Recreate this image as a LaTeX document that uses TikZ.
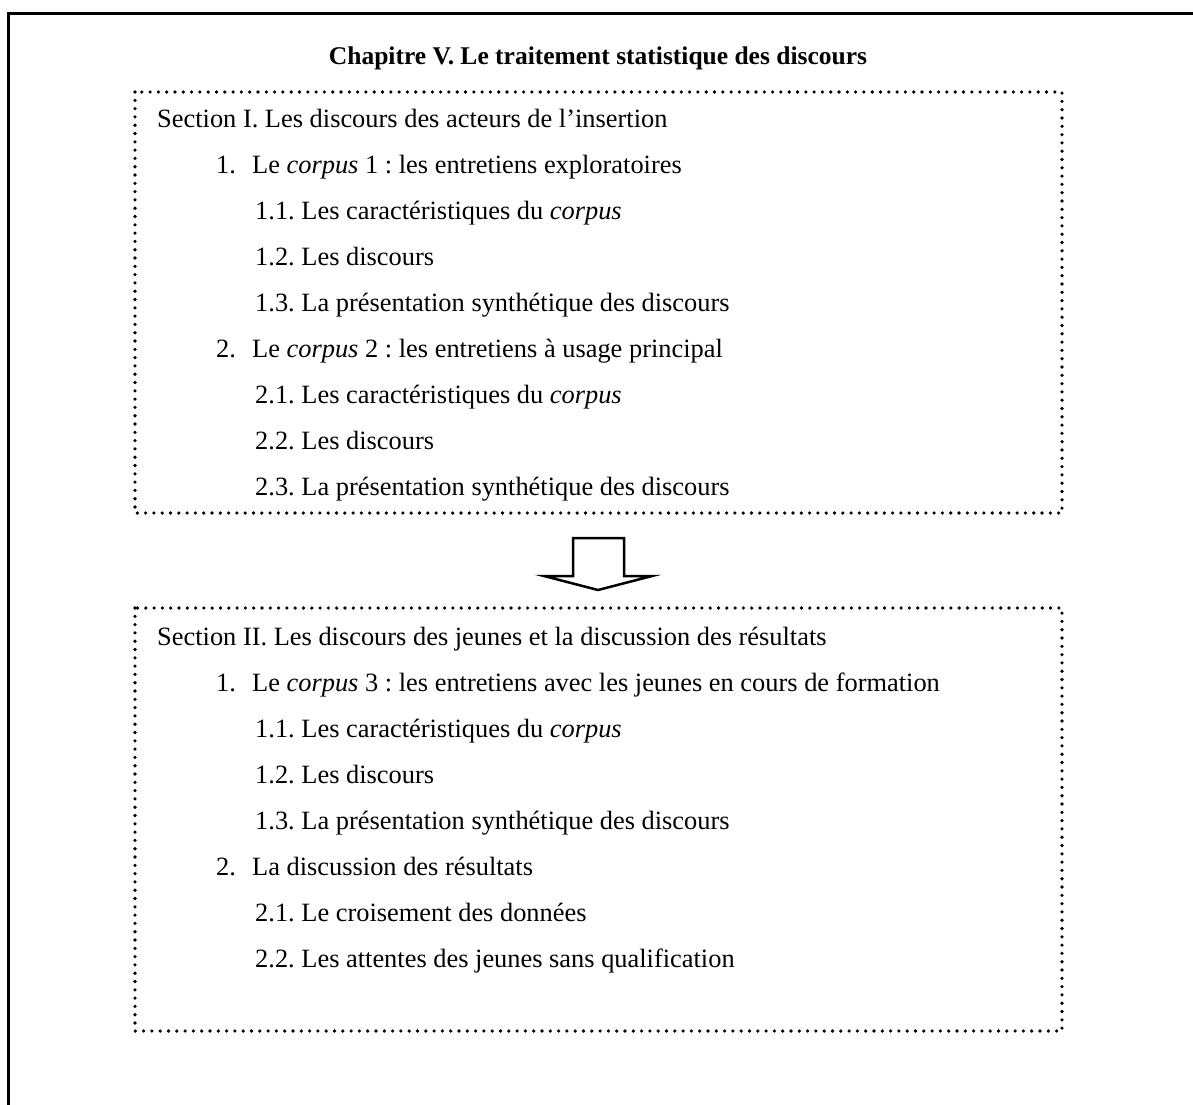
\documentclass[tikz,border=0pt]{standalone}
\usepackage{fontspec}
\setmainfont{Liberation Serif}
\frenchspacing
\begin{document}
\begin{tikzpicture}[x=1pt,y=-1pt,
  txt/.style={anchor=base west,inner sep=0pt,font=\fontsize{26.4}{30}\selectfont},
  ttl/.style={anchor=base,inner sep=0pt,font=\fontsize{25.5}{30}\selectfont\bfseries},
  dotbox/.style={line width=3.6pt,line cap=round,dash pattern=on 0pt off 8.3pt},
  frame/.style={line width=3pt},
  blockarrow/.style={line width=2.5pt,line join=miter}]
\useasboundingbox (0,0) rectangle (1193,1104);
% outer frame
\draw[frame] (8,1110) -- (8,13) -- (1200,13);
% title
\node[ttl] (title) at (598,64) {Chapitre V. Le traitement statistique des discours};
% boxes
\coordinate (b1nw) at (135,92);
\coordinate (b1se) at (1062,513);
\coordinate (b2nw) at (135,608);
\coordinate (b2se) at (1062,1031);
\draw[dotbox] (b1nw) rectangle (b1se);
\draw[dotbox] (b2nw) rectangle (b2se);
% box 1 text
\node[txt] (s1) at (157,127) {Section I. Les discours des acteurs de l’insertion};
\node[txt] (s1a) at (216,173) {1.};
\node[txt] (s1at) at (252,173) {Le \textit{corpus} 1 : les entretiens exploratoires};
\node[txt] (s1a1) at (255,219) {1.1. Les caractéristiques du \textit{corpus}};
\node[txt] (s1a2) at (255,265) {1.2. Les discours};
\node[txt] (s1a3) at (255,311) {1.3. La présentation synthétique des discours};
\node[txt] (s1b) at (216,357) {2.};
\node[txt] (s1bt) at (252,357) {Le \textit{corpus} 2 : les entretiens à usage principal};
\node[txt] (s1b1) at (255,403) {2.1. Les caractéristiques du \textit{corpus}};
\node[txt] (s1b2) at (255,449) {2.2. Les discours};
\node[txt] (s1b3) at (255,495) {2.3. La présentation synthétique des discours};
% arrow
\draw[blockarrow] (573,538) -- (624,538) -- (624,576) -- (652,576) -- (598,590) -- (544,576) -- (573,576) -- cycle;
% box 2 text
\node[txt] (s2) at (157,645) {Section II. Les discours des jeunes et la discussion des résultats};
\node[txt] (s2a) at (216,691) {1.};
\node[txt] (s2at) at (252,691) {Le \textit{corpus} 3 : les entretiens avec les jeunes en cours de formation};
\node[txt] (s2a1) at (255,737) {1.1. Les caractéristiques du \textit{corpus}};
\node[txt] (s2a2) at (255,783) {1.2. Les discours};
\node[txt] (s2a3) at (255,829) {1.3. La présentation synthétique des discours};
\node[txt] (s2b) at (216,875) {2.};
\node[txt] (s2bt) at (252,875) {La discussion des résultats};
\node[txt] (s2b1) at (255,921) {2.1. Le croisement des données};
\node[txt] (s2b2) at (255,967) {2.2. Les attentes des jeunes sans qualification};
\end{tikzpicture}
\end{document}
